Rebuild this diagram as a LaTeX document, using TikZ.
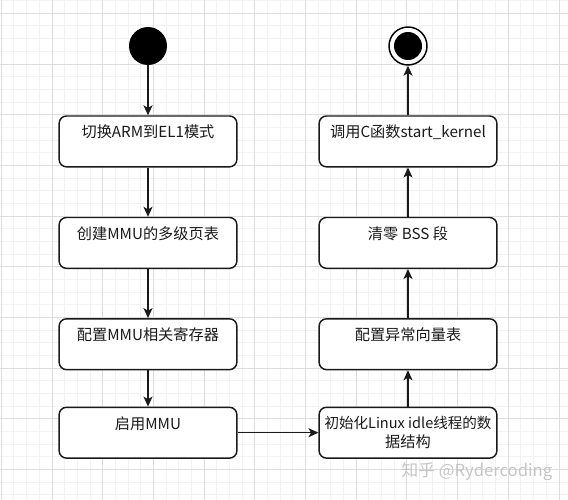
\documentclass[tikz,border=0pt]{standalone}
\usepackage{fontspec}
\setmainfont{Noto Sans CJK SC}
\usetikzlibrary{arrows.meta}
\definecolor{minorgrid}{HTML}{F2F2F2}
\definecolor{majorgrid}{HTML}{DDDDDD}
\definecolor{wm}{HTML}{C6C6C6}
\definecolor{ink}{HTML}{1A1A1A}
\newcommand{\boxtext}[1]{\parbox[c][38.1pt][t]{130pt}{\centering\vspace*{6.8pt}#1\par}}
\newcommand{\oneline}[1]{\makebox[130pt][c]{#1}}
\begin{document}
\begin{tikzpicture}[x=0.75pt,y=-0.75pt,
  box/.style={draw=ink, line width=1.1pt, rounded corners=5.5pt, fill=white,
    minimum width=133.3pt, minimum height=38.1pt, inner sep=0pt,
    font=\fontsize{11.4}{14}\selectfont, text=ink},
  arr/.style={draw=ink, line width=1pt, -{Stealth[length=7.5pt,width=6.8pt,inset=2pt]}},
  startnode/.style={circle, fill=black, minimum size=28.5pt, inner sep=0pt},
  endnode/.style={circle, draw=black, line width=1.1pt, fill=white, minimum size=28.5pt, inner sep=0pt,
    path picture={\fill[black] (path picture bounding box.center) circle (10.5pt);}},
  minorline/.style={draw=minorgrid, line width=0.75pt},
  majorline/.style={draw=majorgrid, line width=0.75pt}]
\useasboundingbox (0,0) rectangle (568,500);
\fill[white] (0,0) rectangle (568,500);
% grid
\foreach \i in {-1,...,45} {
  \pgfmathsetmacro\xx{1.3+12.675*\i}
  \draw[minorline] (\xx,0) -- (\xx,500);
}
\foreach \i in {-2,...,39} {
  \pgfmathsetmacro\yy{13.3+12.675*\i}
  \draw[minorline] (0,\yy) -- (568,\yy);
}
\foreach \i in {0,...,11} {
  \pgfmathsetmacro\xx{1.3+50.7*\i}
  \draw[majorline] (\xx,0) -- (\xx,500);
}
\foreach \i in {0,...,9} {
  \pgfmathsetmacro\yy{13.3+50.7*\i}
  \draw[majorline] (0,\yy) -- (568,\yy);
}
% nodes
\node[startnode] (s) at (148,46) {};
\node[endnode] (e) at (408,46) {};
\node[box] (a1) at (148,141.4) {\boxtext{切换ARM到EL1模式}};
\node[box] (a2) at (148,242.9) {\boxtext{创建MMU的多级页表}};
\node[box] (a3) at (148,344.2) {\boxtext{配置MMU相关寄存器}};
\node[box] (a4) at (148,432.7) {\boxtext{启用MMU}};
\node[box] (b4) at (408,432.7) {\boxtext{\oneline{\fontsize{10.9}{14}\selectfont 初始化Linux idle线程的数}\\\oneline{据结构}}};
\node[box] (b3) at (408,344.2) {\boxtext{配置异常向量表}};
\node[box] (b2) at (408,242.9) {\boxtext{清零 BSS 段}};
\node[box] (b1) at (408,141.4) {\boxtext{调用C函数start\_kernel}};
% connectors
\draw[arr] (s.south) -- (a1.north);
\draw[arr] (a1.south) -- (a2.north);
\draw[arr] (a2.south) -- (a3.north);
\draw[arr] (a3.south) -- (a4.north);
\draw[arr] (a4.east) -- (b4.west);
\draw[arr] (b4.north) -- (b3.south);
\draw[arr] (b3.north) -- (b2.south);
\draw[arr] (b2.north) -- (b1.south);
\draw[arr] (b1.north) -- (e.south);
% watermark
\node[text=wm, font=\fontsize{12.5}{14}\selectfont] (wmk) at (477,472) {知乎 @Rydercoding};
\end{tikzpicture}
\end{document}
